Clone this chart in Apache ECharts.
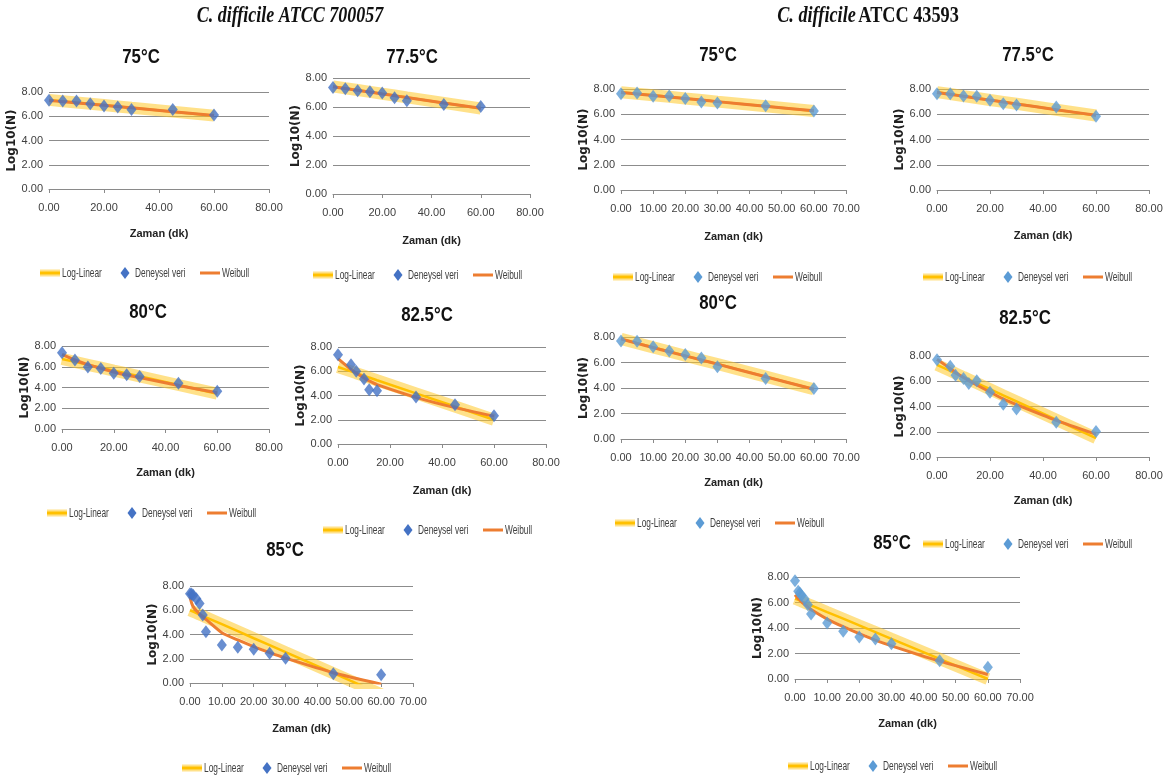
<!DOCTYPE html>
<html>
<head>
<meta charset="utf-8">
<script src="https://cdn.jsdelivr.net/npm/echarts@6/dist/echarts.min.js"></script>
<style>
  html, body { margin: 0; padding: 0; background: #ffffff; }
  #chart { width: 1170px; height: 782px; }
</style>
</head>
<body>
<div id="chart"></div>
<script>
// ---- C. difficile ATCC 700057 ----
const s1_75_t    = [0, 5, 10, 15, 20, 25, 30, 45, 60];
const s1_75_obs  = [7.32, 7.26, 7.26, 7.04, 6.85, 6.77, 6.55, 6.55, 6.11];
const s1_75_lin  = [7.35, 7.24, 7.13, 7.03, 6.92, 6.81, 6.70, 6.38, 6.05];
const s1_75_wei  = [7.30, 7.20, 7.10, 7.00, 6.90, 6.80, 6.70, 6.38, 6.07];

const s1_775_t   = [0, 5, 10, 15, 20, 25, 30, 45, 60];
const s1_775_obs = [7.35, 7.26, 7.12, 7.06, 6.96, 6.64, 6.43, 6.18, 6.04];
const s1_775_lin = [7.42, 7.29, 7.17, 7.04, 6.91, 6.79, 6.66, 6.28, 5.90];
const s1_775_wei = [7.40, 7.27, 7.15, 7.03, 6.90, 6.78, 6.65, 6.28, 5.92];

const s1_80_t    = [0, 5, 10, 15, 20, 25, 30, 45, 60];
const s1_80_obs  = [7.36, 6.66, 5.98, 5.82, 5.38, 5.22, 5.06, 4.42, 3.65];
const s1_80_lin  = [6.75, 6.47, 6.19, 5.91, 5.63, 5.36, 5.08, 4.24, 3.40];
const s1_80_wei  = [7.20, 6.65, 6.20, 5.85, 5.50, 5.20, 4.95, 4.20, 3.50];

const s1_825_t   = [0, 5, 7, 10, 12, 15, 30, 45, 60];
const s1_825_obs = [7.37, 6.54, 6.00, 5.36, 4.48, 4.40, 3.88, 3.24, 2.34];
const s1_825_lin = [6.35, 5.99, 5.84, 5.63, 5.48, 5.26, 4.18, 3.09, 2.00];
const s1_825_wei = [7.05, 6.15, 5.85, 5.45, 5.20, 4.90, 3.85, 3.00, 2.30];

const s1_85_t    = [0, 0.5, 1, 2, 3, 4, 5, 10, 15, 20, 25, 30, 45, 60];
const s1_85_obs  = [7.37, 7.33, 7.23, 6.95, 6.55, 5.60, 4.23, 3.14, 2.95, 2.79, 2.46, 2.05, 0.77, 0.68];
const s1_85_lin  = [6.00, 5.94, 5.88, 5.77, 5.65, 5.54, 5.42, 4.85, 4.27, 3.69, 3.12, 2.54, 0.81, -0.92];
const s1_85_wei  = [7.10, 6.60, 6.30, 5.95, 5.70, 5.45, 5.25, 4.15, 3.55, 3.00, 2.50, 2.05, 0.85, -0.10];

// ---- C. difficile ATCC 43593 ----
const s2_75_t    = [0, 5, 10, 15, 20, 25, 30, 45, 60];
const s2_75_obs  = [7.63, 7.68, 7.42, 7.45, 7.24, 6.97, 6.90, 6.68, 6.26];
const s2_75_lin  = [7.75, 7.63, 7.50, 7.38, 7.25, 7.13, 7.00, 6.63, 6.25];
const s2_75_wei  = [7.72, 7.60, 7.48, 7.36, 7.24, 7.12, 7.00, 6.63, 6.27];

const s2_775_t   = [0, 5, 10, 15, 20, 25, 30, 45, 60];
const s2_775_obs = [7.63, 7.63, 7.45, 7.42, 7.10, 6.84, 6.74, 6.58, 5.84];
const s2_775_lin = [7.75, 7.60, 7.44, 7.29, 7.13, 6.98, 6.83, 6.36, 5.90];
const s2_775_wei = [7.72, 7.57, 7.42, 7.27, 7.12, 6.97, 6.82, 6.36, 5.92];

const s2_80_t    = [0, 5, 10, 15, 20, 25, 30, 45, 60];
const s2_80_obs  = [7.69, 7.66, 7.24, 6.90, 6.62, 6.36, 5.66, 4.75, 3.96];
const s2_80_lin  = [7.85, 7.52, 7.19, 6.86, 6.53, 6.20, 5.88, 4.89, 3.90];
const s2_80_wei  = [7.85, 7.50, 7.17, 6.84, 6.52, 6.20, 5.87, 4.88, 3.90];

const s2_825_t   = [0, 5, 7, 10, 12, 15, 20, 25, 30, 45, 60];
const s2_825_obs = [7.71, 7.19, 6.48, 6.22, 5.83, 6.04, 5.12, 4.17, 3.80, 2.76, 2.02];
const s2_825_lin = [7.30, 6.82, 6.62, 6.33, 6.14, 5.85, 5.37, 4.88, 4.40, 2.95, 1.50];
const s2_825_wei = [7.75, 7.00, 6.70, 6.30, 6.05, 5.70, 5.15, 4.60, 4.15, 2.90, 1.80];

const s2_85_t    = [0, 1, 1.5, 2, 3, 4, 5, 10, 15, 20, 25, 30, 45, 60];
const s2_85_obs  = [7.71, 6.88, 6.75, 6.54, 6.27, 5.83, 5.10, 4.39, 3.74, 3.29, 3.14, 2.77, 1.44, 0.92];
const s2_85_lin  = [6.30, 6.20, 6.14, 6.09, 5.99, 5.88, 5.78, 5.25, 4.73, 4.20, 3.68, 3.15, 1.58, 0.00];
const s2_85_wei  = [6.60, 6.30, 6.20, 6.05, 5.85, 5.65, 5.45, 4.70, 4.10, 3.55, 3.05, 2.60, 1.40, 0.35];

// Labels
const X_NAME = 'Zaman (dk)';
const Y_NAME = 'Log10(N)';
const NAME_LIN = 'Log-Linear';
const NAME_OBS = 'Deneysel veri';
const NAME_WEI = 'Weibull';

// Colours and fonts
const YELLOW = '#FFC000';
const YELLOW_BAND = 'rgba(255, 200, 40, 0.55)';
const ORANGE = '#ED7D31';
const BLUE_1 = '#4472C4';
const BLUE_2 = '#5B9BD5';
const TXT = '#404040';
const SANS = "'Liberation Sans', Arial, sans-serif";

// Panel layout: plot box [left, top, width, height], x-name gap, title centre, legend origin
const panels = [
  { t: s1_75_t,  obs: s1_75_obs,  lin: s1_75_lin,  wei: s1_75_wei,  label: '75°C',   box: [49, 92, 220, 97],   xGap: 39, xMax: 80, xStep: 20, title: [141, 57],  legend: [40, 273],  color: BLUE_1 },
  { t: s1_775_t, obs: s1_775_obs, lin: s1_775_lin, wei: s1_775_wei, label: '77.5°C', box: [333, 78, 197, 116], xGap: 41, xMax: 80, xStep: 20, title: [412, 57],  legend: [313, 275], color: BLUE_1 },
  { t: s1_80_t,  obs: s1_80_obs,  lin: s1_80_lin,  wei: s1_80_wei,  label: '80°C',   box: [62, 346, 207, 83],  xGap: 38, xMax: 80, xStep: 20, title: [148, 312], legend: [47, 513],  color: BLUE_1 },
  { t: s1_825_t, obs: s1_825_obs, lin: s1_825_lin, wei: s1_825_wei, label: '82.5°C', box: [338, 347, 208, 97], xGap: 41, xMax: 80, xStep: 20, title: [427, 315], legend: [323, 530], color: BLUE_1 },
  { t: s1_85_t,  obs: s1_85_obs,  lin: s1_85_lin,  wei: s1_85_wei,  label: '85°C',   box: [190, 586, 223, 97], xGap: 40, xMax: 70, xStep: 10, title: [285, 550], legend: [182, 768], color: BLUE_1 },
  { t: s2_75_t,  obs: s2_75_obs,  lin: s2_75_lin,  wei: s2_75_wei,  label: '75°C',   box: [621, 89, 225, 101], xGap: 41, xMax: 70, xStep: 10, title: [718, 55],  legend: [613, 277], color: BLUE_2 },
  { t: s2_775_t, obs: s2_775_obs, lin: s2_775_lin, wei: s2_775_wei, label: '77.5°C', box: [937, 89, 212, 101], xGap: 40, xMax: 80, xStep: 20, title: [1028, 55], legend: [923, 277], color: BLUE_2 },
  { t: s2_80_t,  obs: s2_80_obs,  lin: s2_80_lin,  wei: s2_80_wei,  label: '80°C',   box: [621, 337, 225, 102], xGap: 38, xMax: 70, xStep: 10, title: [718, 303], legend: [615, 523], color: BLUE_2 },
  { t: s2_825_t, obs: s2_825_obs, lin: s2_825_lin, wei: s2_825_wei, label: '82.5°C', box: [937, 356, 212, 101], xGap: 38, xMax: 80, xStep: 20, title: [1025, 318], legend: [923, 544], color: BLUE_2 },
  { t: s2_85_t,  obs: s2_85_obs,  lin: s2_85_lin,  wei: s2_85_wei,  label: '85°C',   box: [795, 577, 225, 102], xGap: 39, xMax: 70, xStep: 10, title: [892, 543], legend: [788, 766], color: BLUE_2 }
];

const pairs = (xs, ys) => xs.map((x, i) => [x, ys[i]]);

// Narrow legend text (horizontally condensed)
function legendText(x, text) {
  return {
    type: 'text', x: x, y: 0, scaleX: 0.64,
    style: { text: text, font: '13px ' + SANS, fill: TXT, align: 'left', verticalAlign: 'middle' }
  };
}

function legendGroup(p) {
  return {
    type: 'group', x: p.legend[0], y: p.legend[1], z: 10,
    children: [
      { type: 'rect', shape: { x: 0, y: -3.5, width: 20, height: 7 }, style: { fill: YELLOW_BAND } },
      { type: 'rect', shape: { x: 0, y: -1.5, width: 20, height: 3 }, style: { fill: YELLOW } },
      legendText(22, NAME_LIN),
      { type: 'polygon', shape: { points: [[85, -6], [89.5, 0], [85, 6], [80.5, 0]] }, style: { fill: p.color } },
      legendText(95, NAME_OBS),
      { type: 'rect', shape: { x: 160, y: -1.5, width: 20, height: 3 }, style: { fill: ORANGE } },
      legendText(182, NAME_WEI)
    ]
  };
}

const grid = [], xAxis = [], yAxis = [], series = [], graphic = [];

panels.forEach((p, i) => {
  grid.push({ left: p.box[0], top: p.box[1], width: p.box[2], height: p.box[3], containLabel: false });

  xAxis.push({
    gridIndex: i, type: 'value', min: 0, max: p.xMax, interval: p.xStep,
    name: X_NAME, nameLocation: 'middle', nameGap: p.xGap,
    nameTextStyle: { fontFamily: SANS, fontWeight: 'bold', fontSize: 11, color: '#222' },
    axisLine: { show: true, lineStyle: { color: '#8a8a8a', width: 1 } },
    axisTick: { show: true, length: 4, lineStyle: { color: '#8a8a8a' } },
    splitLine: { show: false },
    axisLabel: { margin: 13, fontFamily: SANS, fontSize: 11, color: TXT, formatter: v => v.toFixed(2) }
  });

  yAxis.push({
    gridIndex: i, type: 'value', min: 0, max: 8, interval: 2,
    name: Y_NAME, nameLocation: 'middle', nameGap: 29,
    nameTextStyle: { fontFamily: "'DejaVu Sans', sans-serif", fontWeight: 'bold', fontSize: 12, color: '#222' },
    axisLine: { show: false }, axisTick: { show: false },
    splitLine: { show: true, lineStyle: { color: '#8c8c8c', width: 1 } },
    axisLabel: { margin: 6, fontFamily: SANS, fontSize: 11, color: TXT, formatter: v => v.toFixed(2) }
  });

  // Log-Linear: soft wide band with a solid core
  series.push({
    type: 'line', name: NAME_LIN, xAxisIndex: i, yAxisIndex: i, data: pairs(p.t, p.lin),
    symbol: 'none', silent: true, z: 1, lineStyle: { width: 12, color: YELLOW_BAND }
  });
  series.push({
    type: 'line', name: NAME_LIN, xAxisIndex: i, yAxisIndex: i, data: pairs(p.t, p.lin),
    symbol: 'none', silent: true, z: 2, lineStyle: { width: 2.5, color: YELLOW }
  });
  series.push({
    type: 'line', name: NAME_WEI, xAxisIndex: i, yAxisIndex: i, data: pairs(p.t, p.wei),
    symbol: 'none', smooth: 0.2, silent: true, z: 3, lineStyle: { width: 3, color: ORANGE }
  });
  series.push({
    type: 'scatter', name: NAME_OBS, xAxisIndex: i, yAxisIndex: i, data: pairs(p.t, p.obs),
    symbol: 'diamond', symbolSize: [10, 13], z: 4, itemStyle: { color: p.color }
  });

  graphic.push(legendGroup(p));
  graphic.push({
    type: 'text', x: p.title[0], y: p.title[1], scaleX: 0.8, z: 10,
    style: { text: p.label, fill: '#111', font: "bold 21px " + SANS, align: 'center', verticalAlign: 'middle' }
  });
});

// Strain headings
const headRich = {
  i: { fontFamily: "'Liberation Serif', serif", fontStyle: 'italic', fontWeight: 'bold', fontSize: 24, fill: '#111' },
  n: { fontFamily: "'Liberation Serif', serif", fontWeight: 'bold', fontSize: 24, fill: '#111' }
};
graphic.push({
  type: 'text', x: 290, y: 16, scaleX: 0.75, z: 10,
  style: { text: '{i|C. difficile ATCC 700057}', rich: headRich, align: 'center', verticalAlign: 'middle' }
});
graphic.push({
  type: 'text', x: 868, y: 16, scaleX: 0.76, z: 10,
  style: { text: '{i|C. difficile} {n|ATCC 43593}', rich: headRich, align: 'center', verticalAlign: 'middle' }
});

const chart = echarts.init(document.getElementById('chart'), null, { renderer: 'canvas' });
chart.setOption({
  backgroundColor: '#ffffff',
  animation: false,
  grid, xAxis, yAxis, series, graphic
});
</script>
</body>
</html>
